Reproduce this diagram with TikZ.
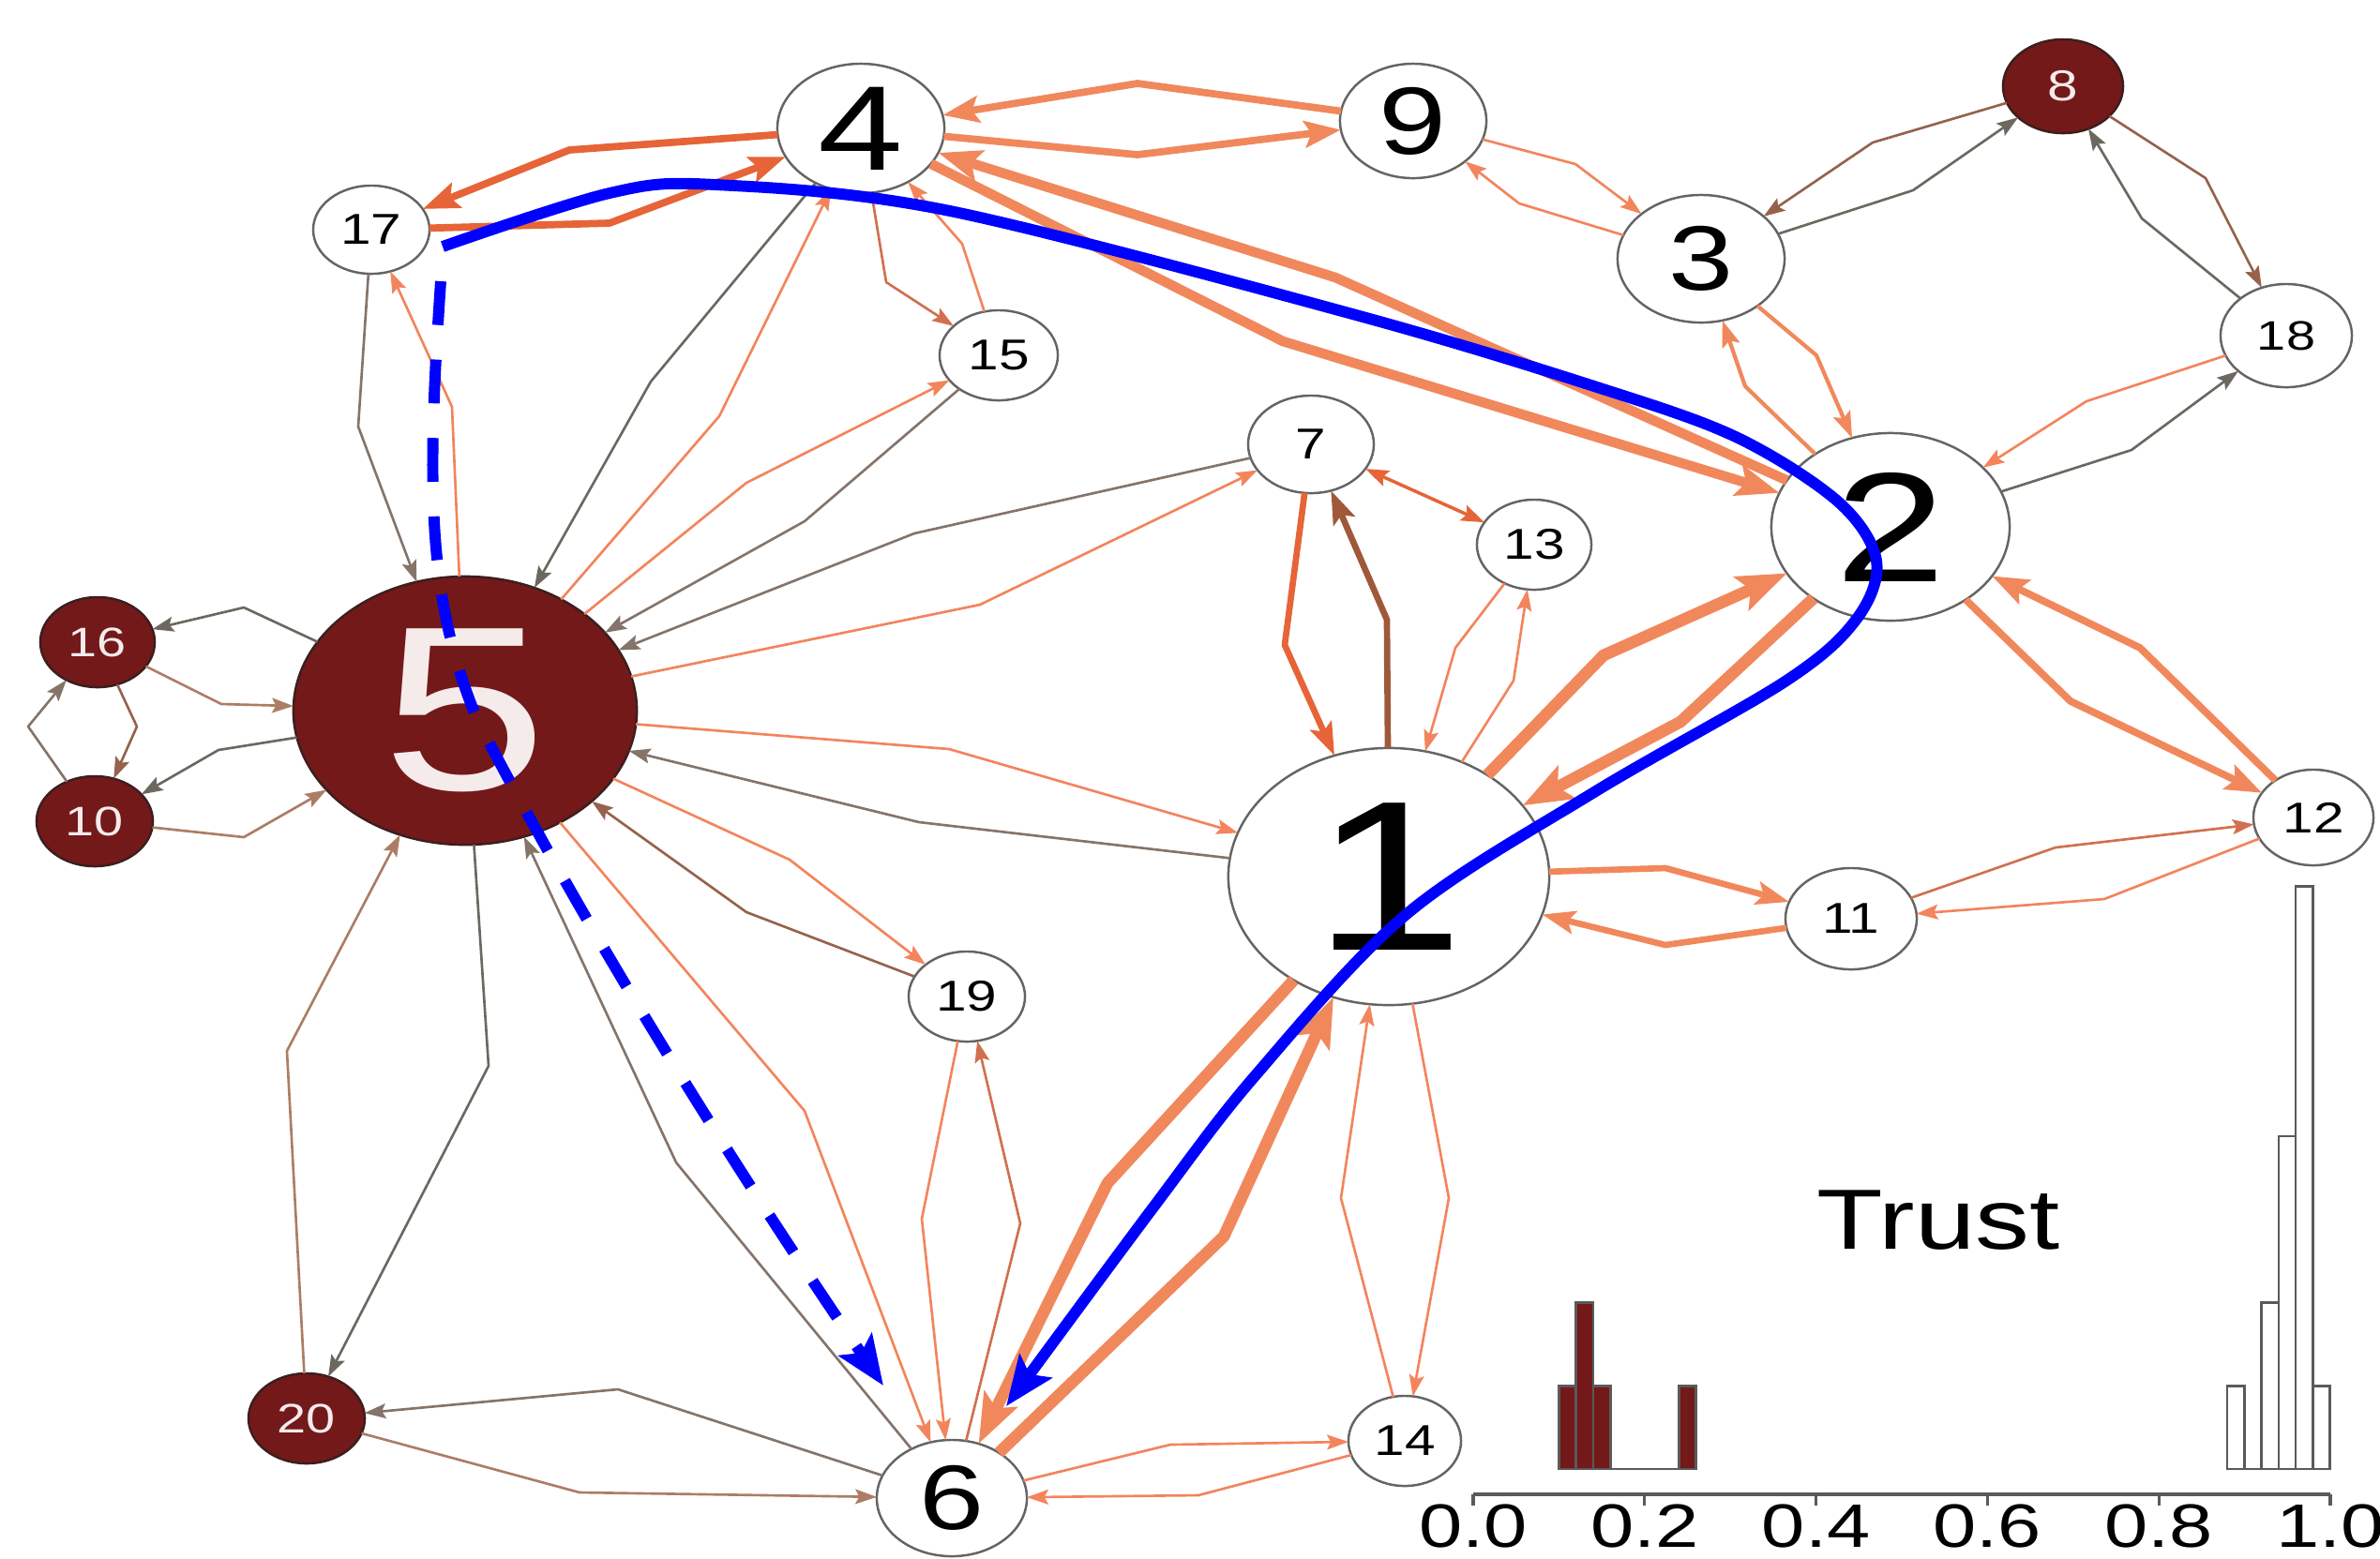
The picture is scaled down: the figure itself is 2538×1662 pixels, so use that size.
\documentclass[tikz,border=0pt]{standalone}
\usepackage{fontspec}
\setmainfont{Liberation Sans}
\usepackage{graphicx}
\usetikzlibrary{shapes.geometric,arrows.meta}
\definecolor{orl}{RGB}{243,132,92}
\definecolor{ort}{RGB}{241,136,92}
\definecolor{ord}{RGB}{230,100,55}
\definecolor{orb}{RGB}{208,112,78}
\definecolor{brw}{RGB}{150,98,75}
\definecolor{brl}{RGB}{172,125,100}
\definecolor{gbr}{RGB}{132,116,106}
\definecolor{gry}{RGB}{108,104,96}
\definecolor{brs}{RGB}{160,88,58}
\definecolor{ndline}{RGB}{100,100,100}
\definecolor{dred}{RGB}{115,25,26}
\definecolor{ddark}{RGB}{60,30,30}
\definecolor{dtext}{RGB}{245,235,235}
\definecolor{histline}{RGB}{90,90,90}
\definecolor{bl}{RGB}{0,0,255}
\tikzset{
  wnode/.style={ellipse, draw=ndline, fill=white, line width=0.7pt, inner sep=0pt, outer sep=0pt, text=black},
  dnode/.style={ellipse, draw=ddark, fill=dred, line width=0.7pt, inner sep=0pt, outer sep=0pt, text=dtext},
  ebase/.style={line join=round},
  thinedge/.style={ebase, line width=0.75pt, -{Stealth[length=6.5pt,width=4.5pt,inset=1.2pt]}},
  eo/.style={thinedge, draw=orl},
  eob/.style={thinedge, draw=orb},
  egr/.style={thinedge, draw=gry},
  egb/.style={thinedge, draw=gbr},
  ebr/.style={thinedge, draw=brw},
  ebl/.style={thinedge, draw=brl},
  emed/.style={ebase, draw=ort, line width=1.2pt, -{Stealth[length=8pt,width=5.5pt,inset=1.5pt]}},
  ewa/.style={ebase, line width=1.9pt, -{Stealth[length=10pt,width=7pt,inset=2pt]}},
  ewb/.style={ebase, line width=2.2pt, -{Stealth[length=11pt,width=8pt,inset=2pt]}},
  ewc/.style={ebase, line width=3pt, -{Stealth[length=13pt,width=9.5pt,inset=2.5pt]}},
  ewd/.style={ebase, line width=3.6pt, -{Stealth[length=15pt,width=11pt,inset=3pt]}},
  bsolid/.style={draw=bl, line width=3.4pt, -{Stealth[length=15pt,width=12pt,inset=3pt]}},
  bdash/.style={bsolid, dash pattern=on 13.3pt off 10.5pt},
  hdark/.style={fill=dred, draw=histline, line width=0.75pt},
  hwhite/.style={fill=white, draw=histline, line width=0.75pt},
}
\newcommand\gnode[7]{\node[#7, minimum width=#4*0.02cm, minimum height=#5*0.02cm] (n#1) at (#2,#3) {\fontsize{#6}{#6}\selectfont\scalebox{1.27}[1]{#1}};}
\newcommand\ed[4]{\draw[#4] (n#1) -- (#3) -- (n#2);}
\begin{document}
\begin{tikzpicture}[x=0.01cm,y=-0.01cm]
\useasboundingbox (0,0) rectangle (2538,1662);
\fill[white] (0,0) rectangle (2538,1662);
% nodes
\gnode{1}{1481}{935}{171}{137}{64.8}{wnode}
\gnode{2}{2016}{562}{127}{100}{47.3}{wnode}
\gnode{3}{1814}{276}{89}{68}{27.8}{wnode}
\gnode{4}{918}{137}{89}{69}{36.5}{wnode}
\gnode{5}{496}{758}{183}{143}{71}{dnode}
\gnode{6}{1015}{1598}{80}{62}{27.8}{wnode}
\gnode{7}{1398}{474}{67}{52}{13.1}{wnode}
\gnode{8}{2200}{92}{64}{50}{13.1}{dnode}
\gnode{9}{1507}{129}{78}{61}{29}{wnode}
\gnode{10}{101}{876}{62}{48}{12.5}{dnode}
\gnode{11}{1974}{980}{70}{54}{13.1}{wnode}
\gnode{12}{2467}{872}{64}{51}{13.1}{wnode}
\gnode{13}{1636}{581}{61}{48}{13.1}{wnode}
\gnode{14}{1498}{1537}{60}{48}{13.1}{wnode}
\gnode{15}{1065}{379}{63}{48}{13.1}{wnode}
\gnode{16}{104}{685}{61}{48}{12.5}{dnode}
\gnode{17}{396}{245}{62}{47}{13.1}{wnode}
\gnode{18}{2438}{358}{70}{55}{12.5}{wnode}
\gnode{19}{1031}{1063}{62}{48}{13.1}{wnode}
\gnode{20}{327}{1513}{62}{48}{12.5}{dnode}
% thin orange edges
\ed{5}{17}{482,434}{eo}
\ed{5}{4}{767,444}{eo}
\ed{5}{15}{796,515}{eo}
\ed{5}{7}{1045,645}{eo}
\ed{5}{1}{1012,799}{eo}
\ed{5}{19}{842,917}{eo}
\ed{5}{6}{858,1185}{eo}
\ed{15}{4}{1026,260}{eo}
\ed{9}{3}{1680,175}{eo}
\ed{3}{9}{1620,217}{eo}
\ed{13}{1}{1552,691}{eo}
\ed{1}{13}{1614,726}{eo}
\ed{18}{2}{2225,428}{eo}
\ed{1}{14}{1545,1278}{eo}
\ed{14}{1}{1430,1278}{eo}
\ed{19}{6}{983,1300}{eo}
\ed{6}{19}{1088,1305}{eob}
\ed{6}{14}{1248,1541}{eo}
\ed{14}{6}{1278,1595}{eo}
\ed{11}{12}{2192,904}{eob}
\ed{12}{11}{2244,959}{eo}
\draw[ebase, draw=ord, line width=1pt, {Stealth[length=7pt,width=5pt,inset=1.2pt]}-{Stealth[length=7pt,width=5pt,inset=1.2pt]}] (n7) -- (n13);
% medium / thick
\ed{3}{2}{1937,379}{emed}
\ed{2}{3}{1861,412}{emed}
\ed{4}{9}{1213,165}{ewb, draw=ort}
\ed{9}{4}{1213,89}{ewb, draw=ort}
\ed{4}{17}{607,160}{ewb, draw=ord}
\ed{17}{4}{650,238}{ewb, draw=ord}
\ed{4}{2}{1368,364}{ewc, draw=ort}
\ed{2}{4}{1424,296}{ewc, draw=ort}
\ed{7}{1}{1370,688}{ewa, draw=ord}
\ed{1}{7}{1479,661}{ewa, draw=brs}
\ed{1}{2}{1710,699}{ewd, draw=ort}
\ed{2}{1}{1792,770}{ewd, draw=ort}
\ed{1}{11}{1776,926}{ewa, draw=ort}
\ed{11}{1}{1776,1008}{ewa, draw=ort}
\ed{2}{12}{2208,748}{ewb, draw=ort}
\ed{12}{2}{2282,691}{ewb, draw=ort}
\ed{1}{6}{1181,1262}{ewd, draw=ort}
\ed{6}{1}{1305,1319}{ewd, draw=ort}
% gray / brown edges
\ed{17}{5}{382,455}{egb}
\ed{4}{5}{694,407}{egr}
\ed{15}{5}{858,556}{egb}
\ed{7}{5}{975,569}{egb}
\ed{1}{5}{980,877}{egb}
\ed{19}{5}{796,973}{ebr}
\ed{6}{5}{721,1240}{egb}
\ed{5}{16}{260,648}{egr}
\ed{16}{5}{236,751}{ebl}
\ed{5}{10}{233,800}{egr}
\ed{10}{5}{260,893}{ebl}
\ed{16}{10}{146,775}{ebr}
\ed{10}{16}{30,775}{egb}
\ed{20}{5}{306,1121}{ebl}
\ed{5}{20}{521,1137}{egr}
\ed{6}{20}{659,1482}{egb}
\ed{20}{6}{618,1592}{ebl}
\ed{4}{15}{945,301}{eob}
\ed{8}{3}{1997,152}{ebr}
\ed{3}{8}{2040,203}{egr}
\ed{8}{18}{2352,190}{ebr}
\ed{18}{8}{2284,233}{egr}
\ed{2}{18}{2273,480}{egr}
% histogram
\draw[histline, line width=0.75pt] (1662.4,1567) -- (1808.6,1567);
\foreach \a/\b/\h in {1662.4/1680.7/1, 1680.7/1699.0/2, 1699.0/1717.2/1, 1790.4/1808.6/1}
  \draw[hdark] (\a,1567) rectangle (\b,{1567-88.8*\h});
\draw[histline, line width=0.75pt] (2374.9,1567) -- (2484.6,1567);
\foreach \a/\b/\h in {2374.9/2393.2/1, 2411.5/2429.8/2, 2429.8/2448.0/4, 2448.0/2466.3/7, 2466.3/2484.6/1}
  \draw[hwhite] (\a,1567) rectangle (\b,{1567-88.8*\h});
\draw[histline, line width=0.9pt] (1571,1594) -- (2485,1594);
\foreach \i/\l in {0/0.0,1/0.2,2/0.4,3/0.6,4/0.8,5/1.0} {
  \draw[histline, line width=0.9pt] ({1571+182.8*\i},1594) -- ++(0,12);
  \node[inner sep=0pt] (tl\i) at ({1571+182.8*\i},1628) {\fontsize{18.6}{18.6}\selectfont\scalebox{1.27}[1]{\l}};
}
\node[inner sep=0pt] (trust) at (2067,1302) {\fontsize{25.9}{25.9}\selectfont\scalebox{1.27}[1]{Trust}};
% blue overlay
\coordinate (bs) at (472,263);
\coordinate (bds) at (470,300);
\coordinate (bt1) at (1073,1500);
\coordinate (bt2) at (942,1478);
\draw[bsolid] plot[smooth, tension=0.55] coordinates {(bs) (650,206) (763,197) (1013,225) (1446,336) (1700,412) (1851,466) (1960,535) (2001,598) (1980,660) (1905,726) (1700,845) (1500,975) (1338,1148) (1229,1289) (bt1)};
\draw[bdash] (bds) .. controls (455,520) and (455,640) .. (510,770) .. controls (640,1020) and (800,1270) .. (bt2);
\end{tikzpicture}
\end{document}
